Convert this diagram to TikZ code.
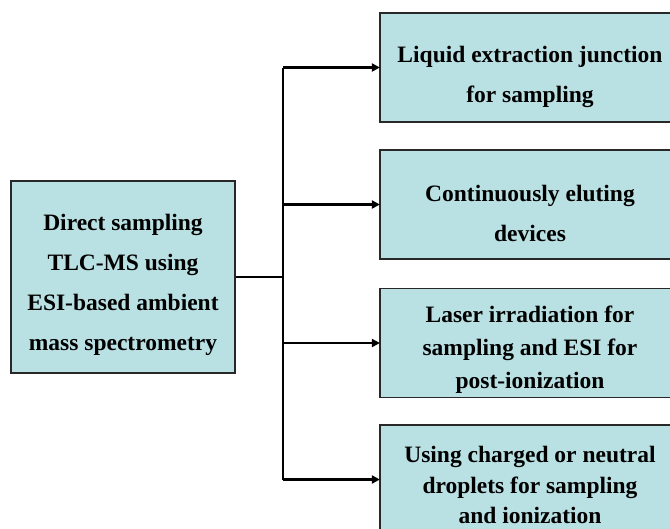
\documentclass[tikz,border=0pt]{standalone}
\usepackage{fontspec}
\setmainfont{Liberation Serif}
\usetikzlibrary{arrows.meta}
\definecolor{boxfill}{RGB}{185,224,227}
\definecolor{boxline}{RGB}{40,40,40}
\tikzset{
  box/.style={draw=boxline, line width=1.2pt, fill=boxfill, inner sep=0pt},
  leftbox/.style={box, minimum width=224pt, minimum height=192pt},
  rightbox/.style={box, minimum width=300pt, minimum height=109pt},
  label/.style={inner sep=0pt, align=center, font=\bfseries\fontsize{23.5}{40}\selectfont},
  conn/.style={line width=2.8pt, black},
  arr/.style={conn, -{Triangle[length=8pt,width=8pt]}, shorten >=-0.5pt}
}
\begin{document}
\begin{tikzpicture}[x=1pt,y=-1pt]
\path[use as bounding box, clip] (0,0) rectangle (670,528);
\node[leftbox] (L) at (123,277) {};
\node[rightbox] (B1) at (530,67.5) {};
\node[rightbox] (B2) at (530,204.5) {};
\node[rightbox] (B3) at (530,343) {};
\node[rightbox] (B4) at (530,479.5) {};
\node[label] (Lt) at (123,285) {Direct sampling\\TLC-MS using\\ESI-based ambient\\mass spectrometry};
\node[label] (B1t) at (530,76.5) {Liquid extraction junction\\for sampling};
\node[label] (B2t) at (530,213.5) {Continuously eluting\\devices};
\node[label, font=\bfseries\fontsize{23.5}{33}\selectfont] (B3t) at (530,349.5) {Laser irradiation for\\sampling and ESI for\\post-ionization};
\node[label, font=\bfseries\fontsize{23.5}{30.5}\selectfont] (B4t) at (530,485) {Using charged or neutral\\droplets for sampling\\and ionization};
\coordinate (T) at (283,277);
\draw[conn] (L.east) -- (T);
\draw[conn] (T |- B1.west) -- (T |- B4.west);
\draw[arr] (T |- B1.west) -- (B1.west);
\draw[arr] (T |- B2.west) -- (B2.west);
\draw[arr] (T |- B3.west) -- (B3.west);
\draw[arr] (T |- B4.west) -- (B4.west);
\end{tikzpicture}
\end{document}
